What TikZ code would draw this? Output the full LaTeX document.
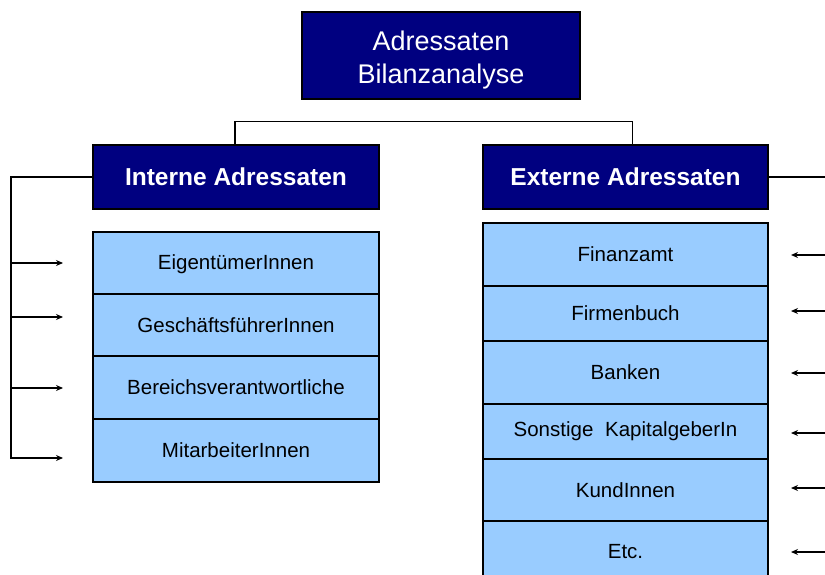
\documentclass[tikz,border=0pt]{standalone}
\usepackage{fontspec}
\setmainfont{Liberation Sans}
\usetikzlibrary{arrows.meta}
\definecolor{navy}{RGB}{0,0,128}
\definecolor{lightblue}{RGB}{153,204,255}
\begin{document}
\begin{tikzpicture}[x=1pt,y=-1pt,
  headbox/.style={draw=black,line width=1.3pt,fill=navy,text=white,inner sep=0pt,align=center},
  topbox/.style={headbox,font=\fontsize{27}{33}\selectfont},
  groupbox/.style={headbox,font=\bfseries\fontsize{24.5}{28}\selectfont},
  itembox/.style={draw=black,line width=1.3pt,fill=lightblue,text=black,inner sep=0pt,font=\fontsize{20.5}{24}\selectfont},
  conn/.style={line width=1.3pt,draw=black},
  arr/.style={conn,-{Stealth[length=7pt,width=6pt]}}]
\useasboundingbox (0,0) rectangle (825,575);
\clip (0,0) rectangle (825,575);
% top
\node[topbox,minimum width=278pt,minimum height=87pt] (top) at (441,55.5) {\rule{0pt}{29pt}Adressaten\\Bilanzanalyse};
% headers
\node[groupbox,minimum width=286pt,minimum height=64pt] (int) at (236,177) {Interne Adressaten};
\node[groupbox,minimum width=285pt,minimum height=64pt] (ext) at (625.5,177) {Externe Adressaten};
% left items
\node[itembox,minimum width=286pt,minimum height=62pt] (l1) at (236,263) {\rule{0pt}{17pt}EigentümerInnen};
\node[itembox,minimum width=286pt,minimum height=62pt] (l2) at (236,325) {GeschäftsführerInnen};
\node[itembox,minimum width=286pt,minimum height=63pt] (l3) at (236,387.5) {Bereichsverantwortliche};
\node[itembox,minimum width=286pt,minimum height=63pt] (l4) at (236,450.5) {MitarbeiterInnen};
% right items
\node[itembox,minimum width=285pt,minimum height=63pt] (r1) at (625.5,254.5) {Finanzamt};
\node[itembox,minimum width=285pt,minimum height=55pt] (r2) at (625.5,313.5) {Firmenbuch};
\node[itembox,minimum width=285pt,minimum height=63pt] (r3) at (625.5,372.5) {Banken};
\node[itembox,minimum width=285pt,minimum height=55pt] (r4) at (625.5,431.5) {Sonstige\hspace{6pt} KapitalgeberIn};
\node[itembox,minimum width=285pt,minimum height=62pt] (r5) at (625.5,490) {KundInnen};
\node[itembox,minimum width=285pt,minimum height=62pt] (r6) at (625.5,552) {Etc.};
% bar between headers
\draw[conn] ([xshift=-1pt]int.north) -- ++(0,-23) -| ([xshift=7pt]ext.north);
% left bus
\coordinate (la1) at (11,263); \coordinate (lt1) at (63,263);
\coordinate (la2) at (11,317); \coordinate (lt2) at (63,317);
\coordinate (la3) at (11,388); \coordinate (lt3) at (63,388);
\coordinate (la4) at (11,458); \coordinate (lt4) at (63,458);
\draw[arr] (int.west) -| (la4) -- (lt4);
\draw[arr] (la1) -- (lt1);
\draw[arr] (la2) -- (lt2);
\draw[arr] (la3) -- (lt3);
% right bus
\coordinate (ra1) at (830,255); \coordinate (rt1) at (791,255);
\coordinate (ra2) at (830,311); \coordinate (rt2) at (791,311);
\coordinate (ra3) at (830,373); \coordinate (rt3) at (791,373);
\coordinate (ra4) at (830,433); \coordinate (rt4) at (791,433);
\coordinate (ra5) at (830,488); \coordinate (rt5) at (791,488);
\coordinate (ra6) at (830,552); \coordinate (rt6) at (791,552);
\draw[conn] (ext.east) -| (ra6);
\draw[arr] (ra1) -- (rt1);
\draw[arr] (ra2) -- (rt2);
\draw[arr] (ra3) -- (rt3);
\draw[arr] (ra4) -- (rt4);
\draw[arr] (ra5) -- (rt5);
\draw[arr] (ra6) -- (rt6);
\end{tikzpicture}
\end{document}
